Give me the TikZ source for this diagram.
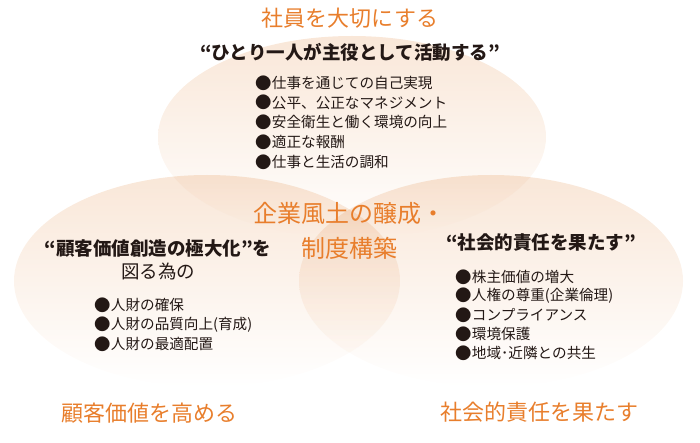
\documentclass[tikz,border=0pt]{standalone}
\usepackage{fontspec}
\setmainfont{Noto Sans CJK JP}
\usetikzlibrary{positioning}

\definecolor{peach}{RGB}{249,231,216}
\definecolor{goalorange}{RGB}{232,126,44}
\definecolor{ink}{RGB}{35,24,21}
\newcommand{\blt}{\makebox[1.15em][l]{\raisebox{-0.8pt}{\fontsize{16.4}{15}\selectfont●}}}

\tikzset{
  venn/.style = {top color=peach, bottom color=white, blend mode=multiply},
  goal/.style = {text=goalorange, font=\fontsize{22}{22}\selectfont, inner sep=0},
  motto/.style = {text=ink, font=\bfseries\fontsize{18.5}{20}\selectfont, inner sep=0},
  item/.style = {text=ink, font=\fontsize{14.6}{15}\selectfont, anchor=west, inner sep=0}
}

\begin{document}
\begin{tikzpicture}[x=1pt, y=-1pt]
\useasboundingbox (0,0) rectangle (700,443);
\path[venn] (352,137) ellipse [x radius=194pt, y radius=101pt];
\path[venn] (207,281) ellipse [x radius=193pt, y radius=106pt];
\path[venn] (491,281) ellipse [x radius=192pt, y radius=106pt];

\node[goal] (staff) at (350,18) {社員を大切にする};
\node[goal] (customer) at (149,413) {顧客価値を高める};
\node[goal] (society) at (539,412) {社会的責任を果たす};
\node[goal, font=\fontsize{24}{35}\selectfont, align=center] (culture) at (349,230.5)
   {企業風土の醸成・\\制度構築};

% employees
\node[motto] (staff-motto) at (350,52) {“ひとり一人が主役として活動する”};
\foreach \t [count=\i] in {仕事を通じての自己実現, 公平、公正なマネジメント, 安全衛生と働く環境の向上, 適正な報酬, 仕事と生活の調和}
   \node[item] (staff-\i) at (255, 63.25+19.75*\i) {\blt\t};

% customers
\node[motto] (customer-motto) at (158,248) {“顧客価値創造の極大化”を};
\node[motto, font=\fontsize{18.5}{20}\selectfont, below=5.5pt of customer-motto] (customer-aim) {図る為の};
\foreach \t [count=\i] in {人財の確保, 人財の品質向上(育成), 人財の最適配置}
   \node[item] (customer-\i) at (94, 285.5+19.5*\i) {\blt\t};

% society
\node[motto] (society-motto) at (541,243) {“社会的責任を果たす”};
\foreach \t [count=\i] in {株主価値の増大, 人権の尊重(企業倫理), コンプライアンス, 環境保護, 地域･近隣との共生}
   \node[item] (society-\i) at (455, 258+19*\i) {\blt\t};

\end{tikzpicture}
\end{document}
